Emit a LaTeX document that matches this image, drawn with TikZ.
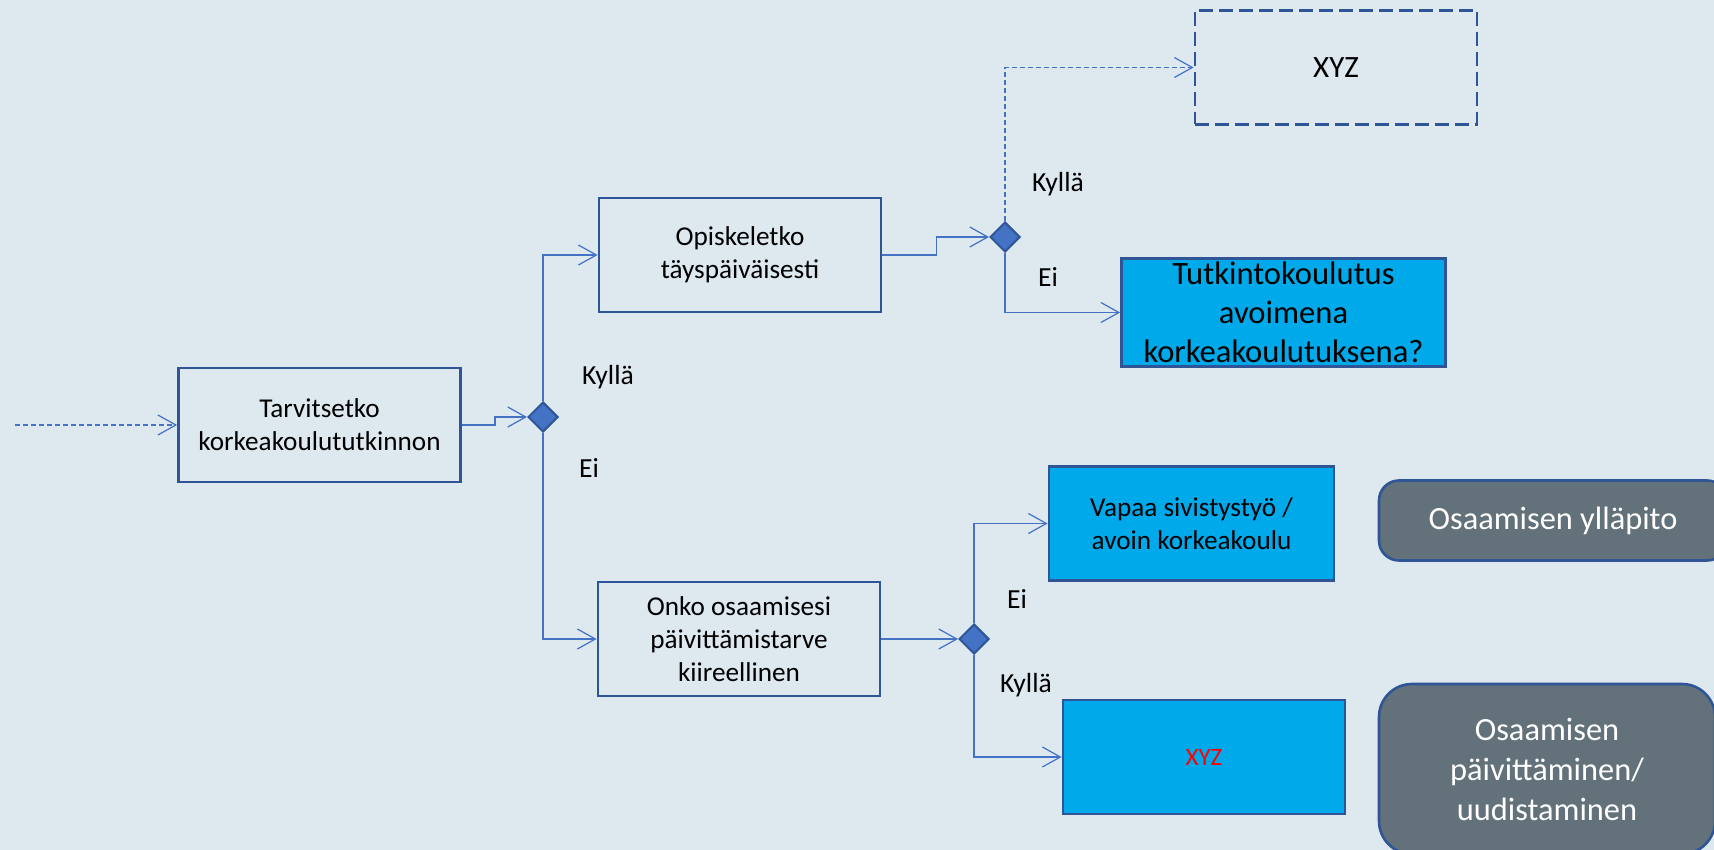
\documentclass[tikz,border=0pt]{standalone}
\usepackage{fontspec}
\setmainfont{Carlito}
\usetikzlibrary{arrows.meta,shapes.geometric}

\definecolor{bgblue}{RGB}{222,232,239}
\definecolor{edgeblue}{RGB}{47,85,151}
\definecolor{flowblue}{RGB}{68,114,196}
\definecolor{cyanfill}{RGB}{0,169,234}
\definecolor{slategray}{RGB}{99,114,122}

\begin{document}
\begin{tikzpicture}[x=0.5pt, y=-0.5pt,
  box/.style={draw=edgeblue, line width=1.4pt, minimum width=141pt, minimum height=57pt,
    inner sep=0pt, align=center, font=\fontsize{13.6}{16.5}\selectfont},
  endbox/.style={box, fill=cyanfill},
  result/.style={draw=edgeblue, line width=1.3pt, fill=slategray, text=white,
    inner sep=0pt, align=center, font=\fontsize{16.2}{20}\selectfont},
  choice/.style={diamond, draw=edgeblue, line width=1pt, fill=flowblue,
    minimum size=15pt, inner sep=0pt},
  flow/.style={draw=flowblue, line width=0.6pt, -{Straight Barb[length=9pt,width=10pt]}},
  fine/.style={dash pattern=on 2.5pt off 1.5pt},
  answer/.style={font=\fontsize{13.8}{16}\selectfont}]

  \useasboundingbox (0,0) rectangle (1714,850);
  \fill[bgblue] (0,0) rectangle (1714,850);

  % questions
  \node[box] (needdeg) at (319.5,425) {Tarvitsetko\\korkeakoulututkinnon};
  \node[box] (fulltime) at (740,255) {Opiskeletko\\täyspäiväisesti};
  \node[box] (urgent) at (739,639) {Onko osaamisesi\\päivittämistarve\\kiireellinen};

  \node[choice] (q1) at (543,417) {};
  \node[choice] (q2) at (1005,237) {};
  \node[choice] (q3) at (974,639) {};

  % outcomes
  \node[box, dash pattern=on 7pt off 3pt, font=\fontsize{15.5}{19}\selectfont] (xyztop) at (1336,67.5) {XYZ};
  \node[endbox, minimum width=162pt, minimum height=54pt, font=\fontsize{16.3}{19.5}\selectfont] (openuni) at (1283.5,312.5)
    {Tutkintokoulutus\\avoimena\\korkeakoulutuksena?};
  \node[endbox, minimum width=142.5pt] (liberal) at (1191.5,523.5) {Vapaa sivistystyö /\\avoin korkeakoulu};
  \node[endbox, text=red, font=\fontsize{12.5}{15}\selectfont] (xyzred) at (1204,757) {XYZ};

  \node[result, minimum width=174pt, minimum height=40pt, rounded corners=10pt] (maintain) at (1553,520.5)
    {Osaamisen ylläpito};
  \node[result, minimum width=168pt, minimum height=85pt, rounded corners=16.5pt] (renew) at (1547,769)
    {Osaamisen\\päivittäminen/\\uudistaminen};

  % answers
  \node[answer] (yes1) at (608,377) {Kyllä};
  \node[answer] (no1) at (589,468) {Ei};
  \node[answer] (yes2) at (1058,184) {Kyllä};
  \node[answer] (no2) at (1048,277) {Ei};
  \node[answer] (no3) at (1017,599) {Ei};
  \node[answer] (yes3) at (1026,685) {Kyllä};

  % connectors
  \coordinate (entry) at (15,425);
  \draw[flow, fine] (entry) -- (needdeg.west);
  \draw[flow] (needdeg.east) -- ++(33,0) |- (q1.west);
  \draw[flow] (q1.north) |- (fulltime.west);
  \draw[flow] (q1.south) |- (urgent.west);
  \draw[flow] (fulltime.east) -- ++(54,0) |- (q2.west);
  \draw[flow, fine] (q2.north) |- (xyztop.west);
  \draw[flow] (q2.south) |- (openuni.west);
  \draw[flow] (urgent.east) -- (q3.west);
  \draw[flow] (q3.north) |- (liberal.west);
  \draw[flow] (q3.south) |- (xyzred.west);
\end{tikzpicture}
\end{document}
